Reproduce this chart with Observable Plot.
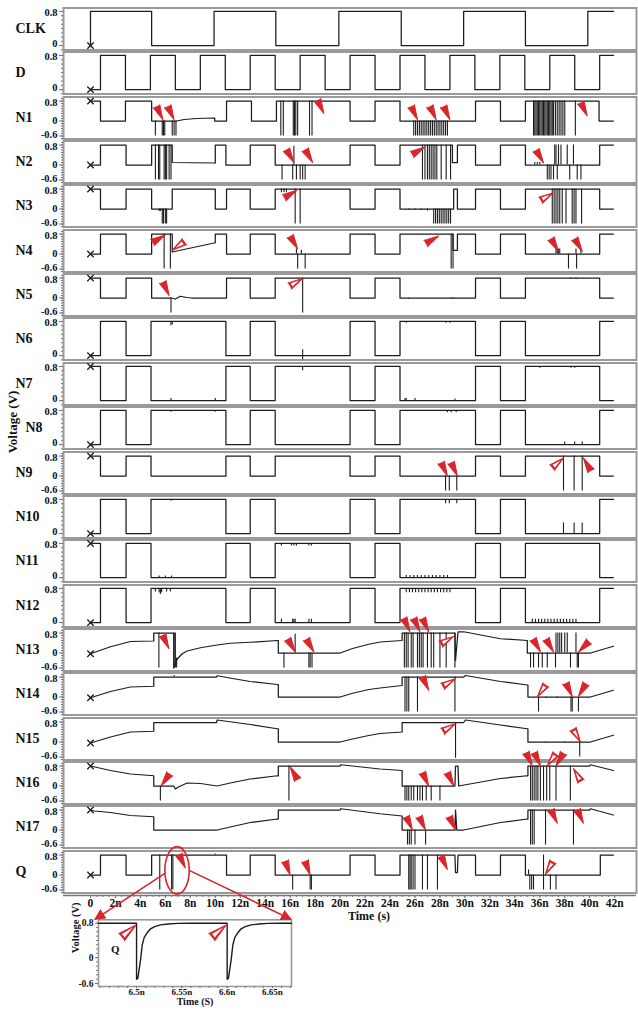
<!DOCTYPE html>
<html><head><meta charset="utf-8">
<script src="https://cdn.jsdelivr.net/npm/d3@7"></script>
<script src="https://cdn.jsdelivr.net/npm/@observablehq/plot@0.6"></script>
<style>
body{margin:0;background:#fff;}
#chart{position:relative;width:638px;height:1011px;overflow:hidden;font-family:"Liberation Serif","Times New Roman",serif;font-weight:bold;color:#111;}
.lbl{position:absolute;white-space:nowrap;}
</style></head><body><div id="chart"></div>
<script>
// ---------- panel names / ticks ----------
const panelNames = ["CLK","D","N1","N2","N3","N4","N5","N6","N7","N8","N9","N10","N11","N12","N13","N14","N15","N16","N17","Q"];
const triNames = ["N1","N2","N3","N4","N5","N9","N13","N14","N15","N16","N17","Q"];
const startValues = [0,0,0.8,0,0.8,0,0.8,0,0.8,0,0.8,0,0.8,0,-0.03,-0.03,-0.04,0.8,0.8,0];
const triTicks = [-0.6, 0, 0.8];
const uniTicks = [0, 0.8];
const triMinor = [-0.7,-0.6,-0.5,-0.4,-0.3,-0.2,-0.1,0,0.1,0.2,0.3,0.4,0.5,0.6,0.7,0.8,0.9];
const uniMinor = [-0.1,0,0.1,0.2,0.3,0.4,0.5,0.6,0.7,0.8];
const xTicks = [0,2,4,6,8,10,12,14,16,18,20,22,24,26,28,30,32,34,36,38,40,42];
const xTickLabels = ["0","2n","4n","6n","8n","10n","12n","14n","16n","18n","20n","22n","24n","26n","28n","30n","32n","34n","36n","38n","40n","42n"];
const xMinor = [0,0.5,1,1.5,2,2.5,3,3.5,4,4.5,5,5.5,6,6.5,7,7.5,8,8.5,9,9.5,10,10.5,11,11.5,12,12.5,13,13.5,14,14.5,15,15.5,16,16.5,17,17.5,18,18.5,19,19.5,20,20.5,21,21.5,22,22.5,23,23.5,24,24.5,25,25.5,26,26.5,27,27.5,28,28.5,29,29.5,30,30.5,31,31.5,32,32.5,33,33.5,34,34.5,35,35.5,36,36.5,37,37.5,38,38.5,39,39.5,40,40.5,41,41.5,42];

// ---------- waveforms (time in ns, volts) ----------
// step form: [time, new value]
const CLK_steps = [[0,0],[0,0.8],[4.9,0],[9.9,0.8],[14.85,0],[19.9,0.8],[24.9,0],[29.9,0.8],[34.85,0],[39.85,0.8],[41.9,0.8]];
const D_steps = [[0,0],[0.8,0.8],[2.8,0],[4.8,0.8],[6.8,0],[8.8,0.8],[10.8,0],[12.8,0.8],[14.8,0],[16.8,0.8],[18.8,0],[20.8,0.8],[22.8,0],[24.8,0.8],[26.8,0],[28.8,0.8],[30.8,0],[32.8,0.8],[34.8,0],[36.8,0.8],[38.8,0],[40.8,0.8],[41.9,0.8]];
const N3_steps = [[0,0.8],[0.8,0],[2.85,0.8],[4.9,0],[6.55,0.8],[10,0],[10.9,0.8],[12.8,0],[14.8,0.8],[20.8,0],[22.8,0.8],[24.8,0],[29.1,0.8],[29.4,0],[30.85,0.8],[32.85,0],[34.85,0.8],[40.8,0],[41.9,0]];
const N6_steps = [[0,0],[0.8,0.8],[2.85,0],[4.85,0.8],[10.85,0],[12.8,0.8],[14.8,0],[20.8,0.8],[22.8,0],[24.8,0.8],[30.85,0],[32.85,0.8],[34.85,0],[40.8,0.8],[41.9,0.8]];
const N7_steps = [[0,0.8],[0.8,0],[2.85,0.8],[4.85,0],[10.85,0.8],[12.8,0],[14.8,0.8],[20.8,0],[22.8,0.8],[24.8,0],[30.85,0.8],[32.85,0],[34.85,0.8],[40.8,0],[41.9,0]];
const N8_steps = [[0,0],[0.8,0.8],[2.85,0],[4.85,0.8],[10.85,0],[12.8,0.8],[14.8,0],[20.8,0.8],[22.8,0],[24.8,0.8],[30.85,0],[32.85,0.8],[34.85,0],[40.8,0.8],[41.9,0.8]];
const N9_steps = [[0,0.8],[0.8,0],[2.85,0.8],[4.85,0],[10.85,0.8],[12.8,0],[14.8,0.8],[20.8,0],[22.8,0.8],[24.8,0],[30.85,0.8],[32.85,0],[34.85,0.8],[40.8,0],[41.9,0]];
const N10_steps = [[0,0],[0.8,0.8],[2.85,0],[4.85,0.8],[10.85,0],[12.8,0.8],[14.8,0],[20.8,0.8],[22.8,0],[24.8,0.8],[30.85,0],[32.85,0.8],[34.85,0],[40.8,0.8],[41.9,0.8]];
const N11_steps = [[0,0.8],[0.8,0],[2.85,0.8],[4.85,0],[10.85,0.8],[12.8,0],[14.8,0.8],[20.8,0],[22.8,0.8],[24.8,0],[30.85,0.8],[32.85,0],[34.85,0.8],[40.8,0],[41.9,0]];
const N12_steps = [[0,0],[0.8,0.8],[2.85,0],[4.85,0.8],[10.85,0],[12.8,0.8],[14.8,0],[20.8,0.8],[22.8,0],[24.8,0.8],[30.85,0],[32.85,0.8],[34.85,0],[40.8,0.8],[41.9,0.8]];
// point form: [time, value], linear between points
const N1_points = [[0,0.8],[0.8,0.8],[0.8,0],[2.8,0],[2.8,0.8],[4.9,0.8],[4.9,0],[6.9,0],[7.5,0.06],[8.5,0.1],[9.95,0.12],[9.95,0],[10.9,0],[10.9,0.8],[12.9,0.8],[12.9,0],[14.9,0],[14.9,0.8],[20.8,0.8],[20.8,0],[22.8,0],[22.8,0.8],[24.8,0.8],[24.8,0],[30.85,0],[30.85,0.8],[32.85,0.8],[32.85,0],[34.85,0],[34.85,0.8],[40.75,0.8],[40.75,0],[41.9,0]];
const N2_points = [[0,0],[0.8,0],[0.8,0.8],[2.85,0.8],[2.85,0],[4.9,0],[4.9,0.8],[6.55,0.8],[6.55,0.1],[8.2,0.09],[10,0.08],[10,0.8],[10.85,0.8],[10.85,0],[12.8,0],[12.8,0.8],[14.8,0.8],[14.8,0],[20.8,0],[20.8,0.8],[22.8,0.8],[22.8,0],[24.8,0],[24.8,0.8],[29.0,0.8],[29.0,0.1],[29.4,0.1],[29.4,0.8],[30.85,0.8],[30.85,0],[32.85,0],[32.85,0.8],[34.85,0.8],[34.85,0],[40.8,0],[40.8,0.8],[41.9,0.8]];
const N4_points = [[0,0],[0.8,0],[0.8,0.8],[2.85,0.8],[2.85,0],[4.9,0],[4.9,0.8],[6.55,0.8],[6.55,0.08],[10,0.45],[10,0.8],[10.9,0.8],[10.9,0],[12.8,0],[12.8,0.8],[14.8,0.8],[14.8,0],[20.8,0],[20.8,0.8],[22.8,0.8],[22.8,0],[24.8,0],[24.8,0.8],[29.05,0.8],[29.05,0.15],[29.4,0.15],[29.4,0.8],[30.85,0.8],[30.85,0],[32.85,0],[32.85,0.8],[34.85,0.8],[34.85,0],[40.8,0],[40.8,0.8],[41.9,0.8]];
const N5_points = [[0,0.8],[0.8,0.8],[0.8,0],[2.85,0],[2.85,0.8],[4.9,0.8],[4.9,0],[6.5,0],[6.8,-0.04],[7.2,0.07],[7.7,0.02],[8.1,0],[10.9,0],[10.9,0.8],[12.8,0.8],[12.8,0],[14.8,0],[14.8,0.8],[20.8,0.8],[20.8,0],[22.8,0],[22.8,0.8],[24.8,0.8],[24.8,0],[30.85,0],[30.85,0.8],[32.85,0.8],[32.85,0],[34.85,0],[34.85,0.8],[40.8,0.8],[40.8,0],[41.9,0]];
const N13_points = [[0,-0.03],[1.6,0.25],[3.2,0.46],[5.07,0.48],[5.07,0.8],[6.67,0.8],[6.67,-0.6],[6.95,-0.24],[7.35,-0.03],[7.74,0.08],[8.81,0.21],[10.15,0.32],[11.2,0.39],[12.8,0.43],[14.96,0.5],[15.05,0.5],[15.05,0],[20.0,0],[21.0,0.18],[22.3,0.35],[23.2,0.44],[24.97,0.5],[24.97,0.8],[29.2,0.8],[29.25,-0.3],[29.35,0.3],[29.45,0.85],[29.9,0.85],[32.85,0.57],[35.0,0.5],[35.0,0],[40.06,0],[41.9,0.27]];
const N14_points = [[0,-0.03],[1.6,0.22],[3.2,0.4],[5.07,0.43],[5.07,0.8],[10.1,0.8],[10.15,0.85],[11.5,0.73],[12.8,0.62],[14.96,0.5],[15.05,0.5],[15.05,0],[20.0,0],[21.0,0.15],[22.3,0.3],[23.2,0.36],[24.97,0.46],[24.97,0.8],[29.9,0.8],[30.05,0.86],[32.85,0.62],[35.0,0.48],[35.05,0.48],[35.05,0],[40.06,0],[41.9,0.27]];
const N15_points = [[0,-0.04],[1.6,0.2],[3.2,0.4],[5.07,0.43],[5.07,0.78],[10.1,0.78],[10.15,0.88],[12.8,0.7],[14.96,0.53],[15.05,0.53],[15.05,0],[20.0,0],[21.0,0.12],[22.3,0.26],[23.2,0.34],[24.97,0.4],[24.97,0.78],[29.9,0.78],[30.05,0.88],[32.85,0.68],[35.0,0.53],[35.05,0.53],[35.05,0],[40.06,0],[41.9,0.27]];
const N16_points = [[0,0.8],[1.6,0.62],[3.2,0.48],[5.07,0.41],[5.07,0],[6.67,0],[6.8,-0.12],[7.0,-0.05],[7.74,0.12],[8.81,0.1],[10.15,0],[11.2,0.12],[12.8,0.28],[14.96,0.41],[15.05,0.41],[15.05,0.8],[20.0,0.8],[20.05,0.85],[23.2,0.68],[24.97,0.62],[24.97,0],[29.2,0],[29.25,0.8],[29.45,0.8],[29.5,0],[32.85,0.3],[35.0,0.41],[35.05,0.41],[35.05,0.8],[40.0,0.8],[40.06,0.85],[41.9,0.62]];
const N17_points = [[0,0.8],[0.3,0.76],[1.6,0.7],[3.2,0.58],[5.07,0.53],[5.07,0],[10.15,0],[11.2,0.12],[12.8,0.3],[14.96,0.44],[15.05,0.44],[15.05,0.8],[20.0,0.8],[20.05,0.85],[23.2,0.65],[24.97,0.56],[24.97,0],[29.2,0],[29.25,0.8],[29.35,0],[29.9,0],[32.85,0.3],[35.0,0.44],[35.05,0.44],[35.05,0.8],[40.0,0.8],[40.06,0.85],[41.9,0.6]];
const Q_points = [[0,0],[0.8,0],[0.8,0.8],[2.85,0.8],[2.85,0],[4.9,0],[4.9,0.8],[10.9,0.8],[10.9,0],[12.8,0],[12.8,0.8],[14.8,0.8],[14.8,0],[20.8,0],[20.8,0.8],[22.8,0.8],[22.8,0],[24.8,0],[24.8,0.8],[29.2,0.8],[29.25,0.1],[29.4,0.1],[29.45,0.8],[30.85,0.8],[30.85,0],[32.85,0],[32.85,0.8],[34.85,0.8],[34.85,0],[40.85,0],[40.85,0.8],[41.9,0.8]];

// ---------- glitches: [time, from, to] ----------
const N1_spikes = [[5.2,0,-0.6],[5.75,0,-0.6],[5.85,0,-0.6],[5.95,0,-0.6],[6.55,0,-0.6],[6.7,0,-0.6],[6.85,0,-0.6],
[15.25,0.8,-0.6],[15.45,0.8,-0.6],[16.25,0.8,-0.6],[16.35,0.8,-0.6],[16.45,0.8,-0.6],[16.6,0.8,-0.6],[17.55,0.8,-0.6],[17.75,0.8,-0.6],
[25.9,0,-0.6],[26.05,0,-0.6],[26.2,0,-0.6],[26.35,0,-0.6],[26.5,0,-0.6],[26.65,0,-0.6],[26.8,0,-0.6],[26.95,0,-0.6],[27.1,0,-0.6],[27.25,0,-0.6],[27.4,0,-0.6],[27.55,0,-0.6],[27.7,0,-0.6],[27.85,0,-0.6],[28.0,0,-0.6],[28.15,0,-0.6],[28.3,0,-0.6],[28.45,0,-0.6],[28.6,0,-0.6],
[35.5,0.8,-0.6],[35.6,0.8,-0.6],[35.7,0.8,-0.6],[35.8,0.8,-0.6],[35.9,0.8,-0.6],[36.0,0.8,-0.6],[36.1,0.8,-0.6],[36.2,0.8,-0.6],[36.3,0.8,-0.6],[36.4,0.8,-0.6],[36.5,0.8,-0.6],[36.6,0.8,-0.6],[36.7,0.8,-0.6],[36.8,0.8,-0.6],[36.9,0.8,-0.6],[37.0,0.8,-0.6],[37.1,0.8,-0.6],[37.25,0.8,-0.6],[37.4,0.8,-0.6],[37.55,0.8,-0.6],[37.7,0.8,-0.6],[37.85,0.8,-0.6],[38.0,0.8,-0.6],[38.85,0.8,-0.6]];
const N2_spikes = [[5.2,0.8,-0.6],[5.45,0.8,-0.6],[5.55,0.8,-0.6],[5.9,0.8,-0.6],[6.0,0.8,-0.6],[6.1,0.8,-0.6],[6.3,0.8,-0.6],[6.45,0.8,-0.6],
[15.35,0,-0.6],[16.2,0,-0.6],[16.3,0,0.75],[16.5,0,-0.6],[16.8,0,-0.6],[17.0,0,-0.6],[17.2,0,-0.6],
[26.6,0.8,-0.6],[26.8,0.8,-0.6],[27.0,0.8,-0.6],[27.15,0.8,-0.6],[27.3,0.8,-0.6],[27.45,0.8,-0.6],[27.6,0.8,-0.6],[27.75,0.8,-0.6],[28.1,0.8,-0.6],[28.5,0.8,-0.6],[28.85,0.8,-0.6],
[35.6,0,0.1],[35.8,0,0.1],[36.0,0,0.1],[36.6,0,-0.6],[36.75,0,-0.6],[36.9,0,-0.6],[37.1,0,-0.6],[37.2,0,0.8],[37.3,0,0.8],[37.4,0,-0.6],[37.5,0,0.8],[37.7,0,0.8],[38.2,0,0.8],[38.4,0,-0.6],[38.7,0,0.8],[39.0,0,-0.6],[39.3,0,-0.6]];
const N3_spikes = [[5.5,0,-0.1],[5.6,0,-0.1],[5.75,0,-0.6],[5.85,0,-0.6],[6.0,0,-0.6],[6.1,0,-0.6],
[15.3,0.8,0.65],[15.5,0.8,0.65],[15.7,0.8,0.65],[16.4,0.8,-0.6],[16.8,0.8,-0.6],
[25.5,0,-0.05],[26.0,0,-0.05],[26.5,0,-0.05],[27.0,0,-0.08],[27.5,0,-0.6],[27.65,0,-0.6],[27.8,0,-0.6],[27.95,0,-0.6],[28.1,0,-0.6],[28.25,0,-0.6],[28.4,0,-0.6],[28.55,0,-0.6],[28.7,0,-0.6],[28.85,0,-0.6],
[37.0,0.8,-0.6],[37.15,0.8,-0.6],[37.3,0.8,-0.6],[37.45,0.8,-0.6],[37.6,0.8,-0.6],[37.8,0.8,-0.6],[38.1,0.8,-0.6],[38.6,0.8,-0.6],[38.75,0.8,-0.6],[38.9,0.8,-0.6],[39.35,0.8,-0.6]];
const N4_spikes = [[5.9,0.8,-0.6],[6.4,0.8,-0.6],[16.5,0,0.2],[16.6,0,-0.6],[16.9,0,0.15],[17.2,0,-0.6],[28.9,0.8,-0.6],[29.05,0.8,-0.6],
[37.3,0,0.2],[37.4,0,0.2],[37.5,0,0.2],[37.6,0,0.2],[38.3,0,-0.6],[38.9,0,0.2],[38.95,0,-0.6],[39.3,0,0.2]];
const N5_spikes = [[6.45,0,-0.6],[17.0,0.8,-0.6],[25.5,0,-0.04],[28.9,0,-0.04],[29.1,0,-0.04],[38.5,0.8,0.75],[38.9,0.8,0.75]];
const N6_spikes = [[6.45,0.8,0.7],[6.55,0.8,0.72],[17.0,0.14,-0.1],[25.3,0.8,0.76],[28.5,0.8,0.76],[28.8,0.8,0.76]];
const N7_spikes = [[6.45,0,0.05],[10.0,0,0.05],[17.0,0.8,0.7],[25.2,0,0.05],[25.3,0,0.05],[26.0,0,0.05],[29.2,0,0.04],[36.0,0.8,0.76],[38.5,0.8,0.76],[38.8,0.8,0.76]];
const N8_spikes = [[6.45,0.8,0.76],[10.0,0.8,0.76],[28.6,0.8,0.75],[28.9,0.8,0.75],[29.3,0.8,0.75],[38.0,0,0.06],[38.8,0,0.06],[39.4,0,0.06]];
const N9_spikes = [[28.45,0,-0.6],[28.75,0,-0.6],[29.35,0,-0.6],[37.9,0.8,-0.6],[38.75,0.8,-0.6],[39.4,0.8,-0.6]];
const N10_spikes = [[6.45,0.8,0.76],[28.45,0.8,0.7],[28.75,0.8,0.7],[29.35,0.8,0.7],[37.9,0,0.25],[38.75,0,0.25],[39.4,0,0.25]];
const N11_spikes = [[5.5,0,0.04],[6.0,0,0.04],[6.5,0,0.04],[15.3,0.8,0.74],[16.1,0.8,0.74],[16.3,0.8,0.74],[16.5,0.8,0.74],[17.5,0.8,0.74],[17.7,0.8,0.74],
[25.3,0,0.05],[25.6,0,0.05],[25.9,0,0.05],[26.2,0,0.05],[26.5,0,0.05],[26.8,0,0.05],[27.1,0,0.05],[27.4,0,0.05],[27.7,0,0.05],[28.0,0,0.05],[28.3,0,0.05],[28.6,0,0.05]];
const N12_spikes = [[5.2,0.8,0.72],[5.5,0.8,0.7],[5.6,0.8,0.66],[5.7,0.8,0.7],[6.1,0.8,0.72],[6.4,0.8,0.72],[15.3,0,0.08],[16.2,0,0.08],[16.3,0,0.08],[16.4,0,0.08],[17.5,0,0.08],[17.7,0,0.08],
[25.3,0.8,0.7],[25.55,0.8,0.7],[25.8,0.8,0.7],[26.05,0.8,0.7],[26.3,0.8,0.7],[26.55,0.8,0.7],[26.8,0.8,0.7],[27.05,0.8,0.7],[27.3,0.8,0.7],[27.55,0.8,0.7],[27.8,0.8,0.7],[28.05,0.8,0.7],[28.3,0.8,0.7],[28.55,0.8,0.7],[28.8,0.8,0.7],
[35.4,0,0.08],[35.65,0,0.08],[35.9,0,0.08],[36.15,0,0.08],[36.4,0,0.08],[36.65,0,0.08],[36.9,0,0.08],[37.15,0,0.08],[37.4,0,0.08],[37.65,0,0.08],[37.9,0,0.08],[38.15,0,0.08],[38.4,0,0.08],[38.65,0,0.08],[38.9,0,0.08]];
const N13_spikes = [[5.48,0.8,-0.6],[6.7,0.8,-0.6],[6.8,0.8,-0.6],[6.9,-0.6,-0.2],[15.5,0,-0.6],[16.4,0,0.75],[17.5,0,-0.6],[17.6,0,-0.6],[17.75,0,-0.6],
[25.15,0.8,-0.6],[25.3,0.8,-0.6],[25.45,0.8,-0.6],[25.7,0.8,-0.6],[25.85,0.8,-0.6],[26.2,0.8,-0.6],[26.35,0.8,-0.6],[26.5,0.8,-0.6],[26.65,0.8,-0.6],[27.0,0.8,-0.6],[27.3,0.8,-0.6],[27.5,0.8,-0.6],[28.0,0.8,-0.6],[28.5,0.8,-0.6],[29.2,0.8,-0.6],
[35.26,0,-0.6],[35.5,0,-0.6],[35.9,0,-0.6],[36.2,0,-0.6],[36.6,0,-0.6],[37.26,0,-0.6],[38.46,0,-0.6],[39.0,0,-0.6],[39.1,0,-0.6],
[37.3,0,0.8],[37.45,0,0.8],[37.6,0,0.8],[37.75,0,0.8],[38.0,0,0.8],[38.2,0,0.8],[38.9,0,0.8]];
const N14_spikes = [[6.7,0.8,0.86],[25.2,0.8,-0.6],[25.35,0.8,-0.6],[25.5,0.8,-0.6],[26.2,0.8,-0.6],[29.2,0.8,-0.6],[35.9,0,-0.6],[36.5,0,-0.04],[37.4,0,-0.04],[38.5,0,-0.6],[38.6,0,-0.6],[39.1,0,-0.6]];
const N15_spikes = [[25.5,0.78,0.74],[26.0,0.78,0.74],[29.25,0.78,-0.65],[36.5,0,-0.03],[38.0,0,-0.03],[39.2,0,-0.6]];
const N16_spikes = [[5.6,0,-0.6],[15.9,0.8,-0.6],[25.2,0,-0.6],[25.35,0,-0.6],[25.5,0,-0.6],[25.7,0,-0.6],[25.9,0,-0.6],[26.2,0,-0.6],[26.4,0,-0.6],[26.6,0,-0.6],[26.9,0,-0.6],[27.3,0,-0.6],[28.0,0,-0.6],
[35.26,0.8,-0.6],[35.4,0.8,-0.6],[35.55,0.8,-0.6],[35.7,0.8,-0.6],[35.85,0.8,-0.6],[36.05,0.8,-0.6],[36.3,0.8,-0.6],[36.55,0.8,-0.6],[36.8,0.8,-0.6],[37.3,0.8,-0.6],[38.45,0.8,-0.6]];
const N17_spikes = [[25.4,0,-0.6],[25.55,0,-0.6],[25.7,0,-0.6],[26.0,0,-0.6],[26.85,0,-0.6],[35.26,0.8,-0.6],[35.4,0.8,-0.6],[35.55,0.8,-0.6],[36.46,0.8,-0.6],[38.7,0.8,-0.6]];
const Q_spikes = [[5.55,0.8,-0.6],[6.5,0.8,-0.6],[6.6,0.8,-0.6],[10.0,0.8,0.84],[16.2,0,-0.6],[17.6,0,-0.6],[17.7,0,-0.6],
[25.5,0.8,-0.6],[25.6,0.8,-0.6],[25.7,0.8,-0.6],[25.85,0.8,-0.6],[26.0,0.8,-0.6],[26.6,0.8,-0.6],[27.0,0.8,-0.6],[27.8,0.8,-0.6],
[35.1,0,0.2],[35.2,0,-0.6],[35.35,0,-0.6],[35.5,0,-0.6],[36.3,0,-0.6],[36.3,0,0.8],[36.85,0,-0.6],[37.3,0,-0.6]];

// ---------- red markers: panel, time, volts, direction (deg), hollow ----------
const markerPanel = ["N1","N1","N1","N1","N1","N1","N1","N2","N2","N2","N2","N3","N3","N4","N4","N4","N4","N4","N4","N5","N5","N9","N9","N9","N9",
"N13","N13","N13","N13","N13","N13","N13","N13","N13","N13","N14","N14","N14","N14","N14","N15","N15",
"N16","N16","N16","N16","N16","N16","N16","N16","N16","N17","N17","N17","N17","N17","Q","Q","Q","Q","Q"];
const markerTime = [5.8,6.7,18.7,26.2,27.7,28.8,39.8,16.3,17.8,26.8,36.3,16.55,37.1,6.0,6.55,16.6,27.9,37.5,39.4,6.3,17.0,28.6,29.4,37.9,39.5,
6.28,16.4,17.9,25.6,26.4,27.1,29.1,36.06,37.1,39.1,27.1,29.25,35.8,38.6,39.1,29.25,39.26,
5.66,16.0,27.1,29.1,35.4,36.06,36.6,37.3,38.7,25.8,26.84,29.25,37.4,39.5,7.6,16.0,17.6,28.6,36.45];
const markerVolt = [0.05,0.05,0.3,0.05,0.05,0.05,0.2,0.1,0.1,0.72,0.08,0.75,0.65,0.76,0.15,0.2,0.72,0.1,0.1,0.1,0.78,0,0,0.72,0.72,
0.18,0.04,0.04,0.85,0.85,0.85,0.66,0.04,0.04,0.04,0.27,0.73,0.0,0.02,0.02,0.73,0.0,
0.0,0.77,0.0,0.0,0.8,0.8,0.8,0.8,0.7,0.0,0.0,0.0,0.27,0.27,0.28,0.0,0.0,0.22,0.02];
const markerDir = [155,155,155,155,155,155,155,150,150,60,150,60,60,60,235,150,60,150,150,155,60,155,155,50,330,
155,150,150,155,155,155,60,150,150,225,155,60,215,155,210,60,150,
215,330,155,155,155,155,215,210,330,155,155,155,155,155,155,160,160,155,210];
const markerHollow = [0,0,0,0,0,0,0,0,0,0,0,0,1,0,1,0,0,0,0,0,1,0,0,1,0,
0,0,0,0,0,0,1,0,0,0,0,1,1,0,0,1,1,
0,0,0,0,0,0,1,0,1,0,0,0,0,0,0,0,0,0,1];

// ---------- inset (zoom of Q around 6.5n–6.65n) ----------
const insetT = [6.458,6.5,6.5,6.5014,6.5044,6.5063,6.5085,6.5118,6.5154,6.52,6.5265,6.535,6.545,6.56,6.6,6.6,6.6014,6.6044,6.6063,6.6085,6.6118,6.6154,6.62,6.6265,6.635,6.645,6.66,6.671];
const insetV = [0.8,0.8,-0.5,-0.48,-0.05,0.3,0.47,0.58,0.67,0.72,0.76,0.78,0.795,0.8,0.8,-0.5,-0.48,-0.05,0.3,0.47,0.58,0.67,0.72,0.76,0.78,0.795,0.8,0.8];
const insetTicks = [6.5,6.55,6.6,6.65];
const insetTickLabels = ["6.5n","6.55n","6.6n","6.65n"];
const insetMinorX = [6.46,6.47,6.48,6.49,6.5,6.51,6.52,6.53,6.54,6.55,6.56,6.57,6.58,6.59,6.6,6.61,6.62,6.63,6.64,6.65,6.66,6.67];
const insetMinorY = [-0.6,-0.5,-0.4,-0.3,-0.2,-0.1,0,0.1,0.2,0.3,0.4,0.5,0.6,0.7,0.8];
const insetMarkerT = [6.4995,6.599];
const insetMarkerV = [0.76,0.76];
const zoomWindowT = [6.0, 7.95];
const zoomWindowV = [-0.8, 1.1];

// ---------- helpers ----------
function stepsToPoints(s) {
  const out = [s[0]];
  for (let i = 1; i < s.length; i++) { out.push([s[i][0], s[i - 1][1]]); out.push(s[i]); }
  return out;
}
const waveTable = {
  CLK: stepsToPoints(CLK_steps), D: stepsToPoints(D_steps), N1: N1_points, N2: N2_points, N3: stepsToPoints(N3_steps),
  N4: N4_points, N5: N5_points, N6: stepsToPoints(N6_steps), N7: stepsToPoints(N7_steps), N8: stepsToPoints(N8_steps),
  N9: stepsToPoints(N9_steps), N10: stepsToPoints(N10_steps), N11: stepsToPoints(N11_steps), N12: stepsToPoints(N12_steps),
  N13: N13_points, N14: N14_points, N15: N15_points, N16: N16_points, N17: N17_points, Q: Q_points
};
const spikeTable = {
  CLK: [], D: [], N1: N1_spikes, N2: N2_spikes, N3: N3_spikes, N4: N4_spikes, N5: N5_spikes, N6: N6_spikes, N7: N7_spikes,
  N8: N8_spikes, N9: N9_spikes, N10: N10_spikes, N11: N11_spikes, N12: N12_spikes, N13: N13_spikes, N14: N14_spikes,
  N15: N15_spikes, N16: N16_spikes, N17: N17_spikes, Q: Q_spikes
};
const markers = markerPanel.map((p, i) => ({panel: p, t: markerTime[i], v: markerVolt[i], dir: markerDir[i], hollow: markerHollow[i]}));

const RED = "#d8262c", INK = "#1c1c1c", FRAME = "#9a9a9a";
const FONT = "'Liberation Serif','Times New Roman',serif";
const xDomain = [-2.163, 43.75];
const PANEL_TOP0 = 6, PANEL_PITCH = 44.35, PANEL_H = 45;
const chart = document.getElementById("chart");
const baseStyle = {fontFamily: FONT, fontWeight: "bold", fontSize: "10.5px", color: "#111", background: "transparent", overflow: "visible"};

// red flag markers: filled spike; hollow = filled spike with a white inner spike set back from the tip
function flagMarks(list, length, r) {
  const marks = [Plot.vector(list, {x: "t", y: "v", rotate: "dir", length, r, shape: "spike", anchor: "end", stroke: RED, fill: RED, strokeWidth: 1})];
  list.filter(m => m.hollow).forEach(m => {
    const a = m.dir * Math.PI / 180, back = 4.2;
    marks.push(Plot.vector([m], {x: "t", y: "v", rotate: "dir", length: length - 6.5, r: r * 0.48, shape: "spike", anchor: "end",
      dx: -back * Math.sin(a), dy: back * Math.cos(a), stroke: "none", fill: "white"}));
  });
  return marks;
}
// y tick labels as text at the left of the frame; top label nudged down, bottom label nudged up
function yLabels(ticks, fontSize) {
  const lo = Math.min(...ticks), hi = Math.max(...ticks);
  return ticks.map(t => Plot.text([t], {y: d => d, frameAnchor: "left", dx: -6, textAnchor: "end", text: d => String(d),
    fontSize, dy: t === hi ? 1.5 : t === lo ? -1.5 : 0}));
}

let qPlot = null, qTop = 0;
panelNames.forEach((name, i) => {
  const tri = triNames.includes(name);
  const top = PANEL_TOP0 + PANEL_PITCH * i;
  const mk = markers.filter(m => m.panel === name);
  const p = Plot.plot({
    width: 638, height: PANEL_H, marginLeft: 63, marginRight: 2, marginTop: 1.5, marginBottom: 1.5,
    x: {domain: xDomain, axis: null, label: null},
    y: {domain: tri ? [-0.72, 0.96] : [-0.103, 0.882], axis: null, label: null},
    style: baseStyle,
    marks: [
      Plot.frame({stroke: FRAME, strokeWidth: 2}),
      Plot.axisY({ticks: tri ? triMinor : uniMinor, tickSize: 2, tickFormat: () => "", stroke: "#777", label: null}),
      Plot.axisY({ticks: tri ? triTicks : uniTicks, tickSize: 4, tickFormat: () => "", stroke: "#777", label: null}),
      ...yLabels(tri ? triTicks : uniTicks, 10.5),
      Plot.ruleX(spikeTable[name], {x: d => d[0], y1: d => d[1], y2: d => d[2], stroke: INK, strokeWidth: 1.1}),
      Plot.line(waveTable[name], {x: d => d[0], y: d => d[1], stroke: INK, strokeWidth: 1.25}),
      Plot.dot([startValues[i]], {x: () => 0, y: d => d, symbol: "times", r: 3, stroke: INK, strokeWidth: 1.3}),
      ...flagMarks(mk, 15, 3.6),
      Plot.text([name], {frameAnchor: "left", dx: name === "N8" ? -38 : -48, text: d => d, fontSize: 14, fontWeight: "bold", textAnchor: "start", fill: "#111"})
    ]
  });
  p.style.position = "absolute"; p.style.left = "0px"; p.style.top = top + "px";
  chart.appendChild(p);
  if (name === "Q") { qPlot = p; qTop = top; }
});

// ---------- time axis ----------
const axisTop = 889;
const axisPlot = Plot.plot({
  width: 638, height: 32, marginLeft: 63, marginRight: 2, marginTop: 2, marginBottom: 26,
  x: {domain: xDomain, axis: null, label: null}, y: {domain: [0, 1], axis: null, label: null},
  style: {...baseStyle, fontSize: "11.5px"},
  marks: [
    Plot.ruleY([0], {stroke: "#777", strokeWidth: 1.3}),
    Plot.axisX({ticks: xMinor, tickSize: 2, tickFormat: () => "", stroke: "#777", label: null}),
    Plot.axisX({ticks: xTicks, tickSize: 3, tickPadding: 0, stroke: "#777", label: null, tickFormat: d => xTickLabels[xTicks.indexOf(d)]})
  ]
});
axisPlot.style.position = "absolute"; axisPlot.style.left = "0px"; axisPlot.style.top = axisTop + "px";
chart.appendChild(axisPlot);

function addLabel(text, x, y, size, rotate) {
  const d = document.createElement("div");
  d.className = "lbl"; d.textContent = text;
  d.style.fontSize = size + "px";
  d.style.left = x + "px"; d.style.top = y + "px";
  d.style.transform = "translate(-50%,-50%)" + (rotate ? " rotate(" + rotate + "deg)" : "");
  chart.appendChild(d);
}
addLabel("Time (s)", 369, 915.5, 12, 0);
addLabel("Voltage (V)", 13, 422, 13, -90);

// ---------- inset ----------
const insetTop = 911;
const insetPts = insetT.map((t, i) => [t, insetV[i]]);
const insetMk = insetMarkerT.map((t, i) => ({t, v: insetMarkerV[i], dir: 50, hollow: 1}));
const inset = Plot.plot({
  width: 300, height: 96, marginLeft: 98, marginRight: 9, marginTop: 8.3, marginBottom: 21,
  x: {domain: [6.458, 6.671], axis: null, label: null}, y: {domain: [-0.67, 0.879], axis: null, label: null},
  style: {...baseStyle, fontSize: "9px"},
  marks: [
    Plot.frame({stroke: FRAME, strokeWidth: 1.6}),
    Plot.axisY({ticks: insetMinorY, tickSize: 2, tickFormat: () => "", stroke: "#777", label: null}),
    Plot.axisY({ticks: triTicks, tickSize: 3, tickPadding: 2, stroke: "#777", tickFormat: d => String(d), label: null, fontSize: 9.5}),
    Plot.axisX({ticks: insetMinorX, tickSize: 2, tickFormat: () => "", stroke: "#777", label: null}),
    Plot.axisX({ticks: insetTicks, tickSize: 2, tickPadding: 0, stroke: "#777", label: null, tickFormat: d => insetTickLabels[insetTicks.indexOf(d)]}),
    Plot.line(insetPts, {x: d => d[0], y: d => d[1], stroke: INK, strokeWidth: 1.4}),
    ...flagMarks(insetMk, 19, 4.6),
    Plot.text(["Q"], {x: () => 6.4765, y: () => 0.2, text: d => d, fontSize: 11}),
    Plot.text(["Time (S)"], {frameAnchor: "bottom", dy: 18.5, text: d => d, fontSize: 10}),
    Plot.text(["Voltage (V)"], {frameAnchor: "left", dx: -23, rotate: -90, text: d => d, fontSize: 10.5})
  ]
});
inset.style.position = "absolute"; inset.style.left = "0px"; inset.style.top = insetTop + "px";
chart.appendChild(inset);

// ---------- red zoom callout (positions derived from the plots' scales) ----------
const qx = qPlot.scale("x"), qy = qPlot.scale("y");
const ix = inset.scale("x"), iy = inset.scale("y");
const cx = (qx.apply(zoomWindowT[0]) + qx.apply(zoomWindowT[1])) / 2;
const cy = qTop + (qy.apply(zoomWindowV[0]) + qy.apply(zoomWindowV[1])) / 2;
const rx = (qx.apply(zoomWindowT[1]) - qx.apply(zoomWindowT[0])) / 2;
const ry = (qy.apply(zoomWindowV[0]) - qy.apply(zoomWindowV[1])) / 2;
const insetL = ix.apply(6.458) - 3, insetR = ix.apply(6.671), insetY = insetTop + iy.apply(0.879);
const ov = d3.create("svg").attr("width", 638).attr("height", 1011)
  .style("position", "absolute").style("left", "0px").style("top", "0px").style("pointer-events", "none");
ov.append("defs").append("marker").attr("id", "ah").attr("viewBox", "0 0 10 10").attr("refX", 9).attr("refY", 5)
  .attr("markerWidth", 7).attr("markerHeight", 7).attr("orient", "auto")
  .append("path").attr("d", "M0,0L10,5L0,10Z").attr("fill", RED);
ov.append("ellipse").attr("cx", cx).attr("cy", cy).attr("rx", rx).attr("ry", ry)
  .attr("fill", "none").attr("stroke", RED).attr("stroke-width", 1.6);
ov.append("line").attr("x1", cx - rx).attr("y1", cy + 3).attr("x2", insetL).attr("y2", insetY)
  .attr("stroke", RED).attr("stroke-width", 1.6).attr("marker-end", "url(#ah)");
ov.append("line").attr("x1", cx + rx).attr("y1", cy).attr("x2", insetR).attr("y2", insetY)
  .attr("stroke", RED).attr("stroke-width", 1.6).attr("marker-end", "url(#ah)");
chart.appendChild(ov.node());
</script></body></html>
